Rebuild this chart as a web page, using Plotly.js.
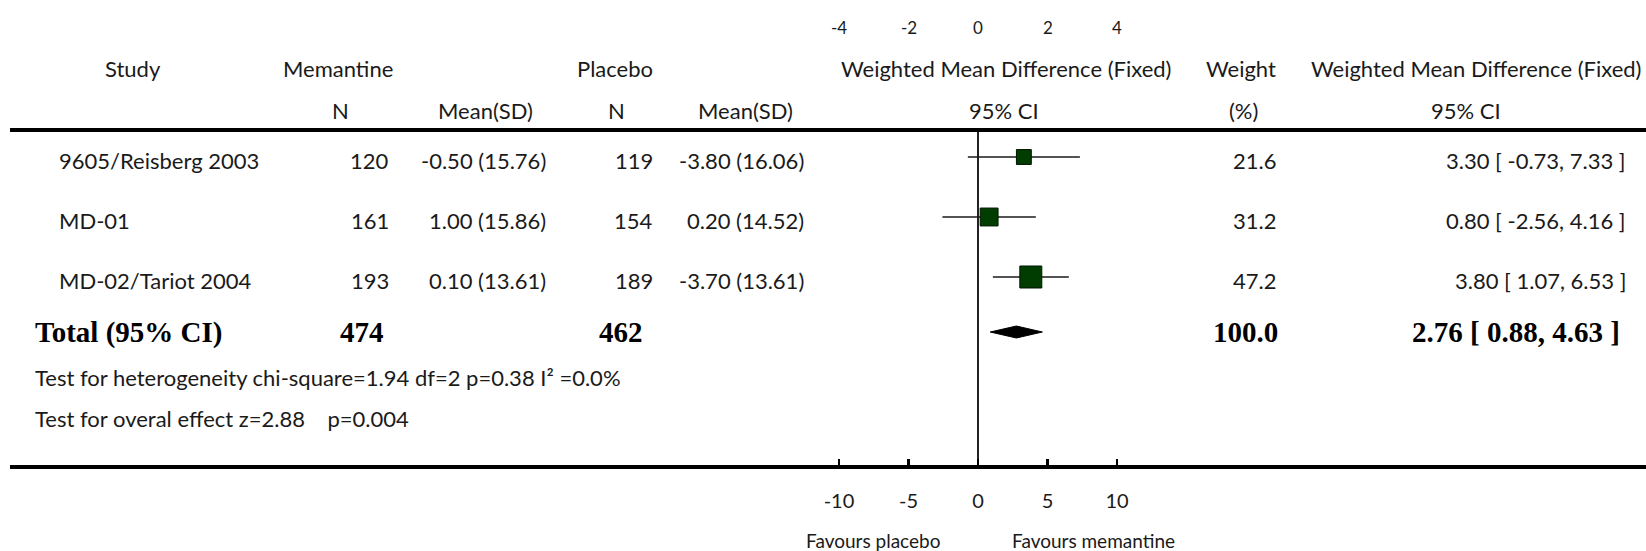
<!DOCTYPE html>
<html><head><meta charset="utf-8">
<script src="https://cdn.plot.ly/plotly-3.0.1.min.js"></script>
<style>html,body{margin:0;padding:0;background:#fff;} #chart{width:1646px;height:551px;}</style>
</head><body><div id="chart"></div>
<script>
// ---- data ----
const studies = ['9605/Reisberg 2003', 'MD-01', 'MD-02/Tariot 2004'];
const memN = [120, 161, 193];
const memMean = [-0.50, 1.00, 0.10];
const memSD = [15.76, 15.86, 13.61];
const plaN = [119, 154, 189];
const plaMean = [-3.80, 0.20, -3.70];
const plaSD = [16.06, 14.52, 13.61];
const wmd = [3.30, 0.80, 3.80];
const ciLow = [-0.73, -2.56, 1.07];
const ciHigh = [7.33, 4.16, 6.53];
const weights = [21.6, 31.2, 47.2];
const totalMemN = 474, totalPlaN = 462;
const totalWmd = 2.76, totalLow = 0.88, totalHigh = 4.63, totalWeight = 100.0;
const hetChi2 = 1.94, hetDf = 2, hetP = 0.38, hetI2 = 0.0;
const effectZ = 2.88, effectP = 0.004;
const bottomTicks = [-10, -5, 0, 5, 10];
const bottomTickLabels = ['-10', '-5', '0', '5', '10'];
const topTicks = [-4, -2, 0, 2, 4];
const topTickLabels = ['-4', '-2', '0', '2', '4'];
const topScale = 0.4; // the upper scale runs at 0.4x the lower one

// ---- layout geometry (pixels) ----
const W = 1646, H = 551, ML = 10, MB = 86;
const PLOT_H = H - MB;            // plot area 0..465
const LINE_TOP = 132;             // header rule
const X0PIX = 978, PXU = 13.9;    // zero position and px per unit
const xRange = [(ML - X0PIX) / PXU, (W - X0PIX) / PXU];
const rowY = [157, 217, 277];
const totalY = 332, hetY = 377, effectY = 418, head1Y = 68, head2Y = 110, favY = 540, topTickY = 27;
const X = px => (px - ML) / (W - ML);
const Y = py => (PLOT_H - py) / PLOT_H;

const FONT = 'Lato, "Open Sans", sans-serif';
const SERIF = '"Liberation Serif", "Times New Roman", serif';
const TXT = '#1a1a1a';

const ann = [];
function t(text, px, py, anchor, extra) {
  ann.push(Object.assign({
    text: text, x: X(px), y: Y(py), xref: 'paper', yref: 'paper',
    xanchor: anchor, yanchor: 'middle', showarrow: false,
    font: {family: FONT, size: 22, color: TXT}
  }, extra || {}));
}
const f2 = v => v.toFixed(2);
const ciText = (m, lo, hi) => `${f2(m)} [ ${f2(lo)}, ${f2(hi)} ]`;
const msd = (m, s) => `${f2(m)} (${f2(s)})`;

// upper scale labels, placed through the x axis
topTicks.forEach((v, i) => {
  ann.push({text: topTickLabels[i], x: v / topScale, xref: 'x', y: Y(topTickY), yref: 'paper',
            xanchor: 'center', yanchor: 'middle', showarrow: false,
            font: {family: FONT, size: 17, color: TXT}});
});

// headers
t('Study', 133, head1Y, 'center');
t('Memantine', 338, head1Y, 'center');
t('Placebo', 615, head1Y, 'center');
t('Weighted Mean Difference (Fixed)', 1006, head1Y, 'center');
t('Weight', 1241, head1Y, 'center');
t('Weighted Mean Difference (Fixed)', 1476, head1Y, 'center');
t('N', 340, head2Y, 'center');
t('Mean(SD)', 485, head2Y, 'center');
t('N', 616, head2Y, 'center');
t('Mean(SD)', 745, head2Y, 'center');
t('95% CI', 1004, head2Y, 'center');
t('(%)', 1243, head2Y, 'center');
t('95% CI', 1466, head2Y, 'center');

// study rows
studies.forEach((s, i) => {
  const y = rowY[i] + 3;
  t(s, 57, y, 'left');
  t(String(memN[i]), 391, y, 'right');
  t(msd(memMean[i], memSD[i]), 548, y, 'right');
  t(String(plaN[i]), 655, y, 'right');
  t(msd(plaMean[i], plaSD[i]), 806, y, 'right');
  t(weights[i].toFixed(1), 1278, y, 'right');
  t(ciText(wmd[i], ciLow[i], ciHigh[i]), 1628, y, 'right');
});

// total row
const bold = {font: {family: SERIF, size: 29, color: '#000', weight: 700}};
t('<b>Total (95% CI)</b>', 33, totalY, 'left', bold);
t('<b>' + totalMemN + '</b>', 386, totalY, 'right', bold);
t('<b>' + totalPlaN + '</b>', 645, totalY, 'right', bold);
t('<b>' + totalWeight.toFixed(1) + '</b>', 1280, totalY, 'right', bold);
t('<b>' + ciText(totalWmd, totalLow, totalHigh) + '</b>', 1622, totalY, 'right', bold);

t(`Test for heterogeneity chi-square=${f2(hetChi2)} df=${hetDf} p=${f2(hetP)} I\u00b2 =${hetI2.toFixed(1)}%`, 33, hetY, 'left');
t(`Test for overal effect z=${f2(effectZ)}\u00a0\u00a0\u00a0 p=${effectP.toFixed(3)}`, 33, effectY, 'left');

t('Favours placebo', 873, favY, 'center', {font: {family: FONT, size: 19, color: TXT}});
t('Favours memantine', 1093, favY, 'center', {font: {family: FONT, size: 19, color: TXT}});

// ---- traces ----
const traces = [
  {
    type: 'scatter', mode: 'markers', x: wmd, y: rowY,
    hoverinfo: 'skip', showlegend: false,
    marker: {symbol: 'square', color: '#013c01', opacity: 1,
             size: weights.map(w => 3.2 * Math.sqrt(w)),
             line: {color: '#001400', width: 1}},
    error_x: {type: 'data', symmetric: false,
              array: wmd.map((m, i) => ciHigh[i] - m),
              arrayminus: wmd.map((m, i) => m - ciLow[i]),
              width: 0, thickness: 1.6, color: '#1a1a1a'}
  },
  {
    type: 'scatter', mode: 'lines', fill: 'toself', fillcolor: '#000',
    x: [totalLow, totalWmd, totalHigh, totalWmd, totalLow],
    y: [totalY, totalY - 6, totalY, totalY + 6, totalY],
    line: {color: '#000', width: 1}, hoverinfo: 'skip', showlegend: false
  }
];

const layout = {
  width: W, height: H,
  margin: {l: ML, r: 0, t: 0, b: MB, pad: 0},
  paper_bgcolor: '#fff', plot_bgcolor: '#fff',
  font: {family: FONT, size: 22, color: TXT},
  showlegend: false,
  xaxis: {
    range: xRange, fixedrange: true,
    showline: true, linewidth: 4, linecolor: '#000', mirror: true,
    ticks: 'inside', ticklen: 6, tickwidth: 2.5, tickcolor: '#000',
    tickmode: 'array', tickvals: bottomTicks, ticktext: bottomTickLabels,
    tickfont: {family: FONT, size: 20, color: TXT}, ticklabelstandoff: 15,
    showgrid: false, zeroline: true, zerolinecolor: '#222', zerolinewidth: 1.5
  },
  yaxis: {
    domain: [0, (PLOT_H - LINE_TOP) / PLOT_H], range: [PLOT_H, LINE_TOP],
    fixedrange: true, showgrid: false, zeroline: false, showticklabels: false,
    showline: false, ticks: ''
  },
  annotations: ann
};

Plotly.newPlot('chart', traces, layout, {displayModeBar: false, staticPlot: true});
</script>
</body></html>
